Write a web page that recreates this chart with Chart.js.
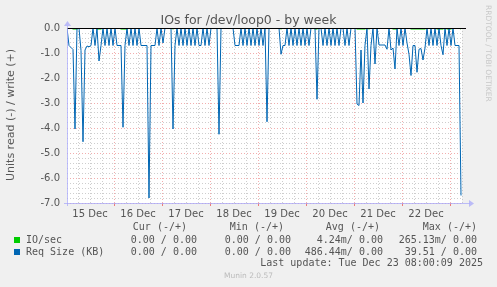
<!DOCTYPE html>
<html><head><meta charset="utf-8">
<script src="https://cdn.jsdelivr.net/npm/chart.js@4.4.1/dist/chart.umd.min.js"></script>
<style>
html,body{margin:0;padding:0;background:#f0f0f0;}
#wrap{position:relative;width:497px;height:287px;overflow:hidden;background:#f0f0f0;}
canvas{position:absolute;left:0;top:0;}
.m{position:absolute;white-space:pre;font-family:"DejaVu Sans Mono",monospace;font-size:10px;line-height:12px;color:#555;}
.s{position:absolute;white-space:pre;font-family:"DejaVu Sans",sans-serif;color:#555;}
.sq{position:absolute;width:6px;height:6px;}
</style></head><body>
<div id="wrap">
<canvas id="c" width="497" height="287"></canvas>
<div class="s" style="left:0;width:497px;text-align:center;top:12px;font-size:12.5px;line-height:16px;">IOs for /dev/loop0 - by week</div>
<div class="s" style="left:5px;top:47px;width:12px;height:135px;font-size:11px;line-height:12px;writing-mode:vertical-rl;transform:rotate(180deg);text-align:center;">Units read (-) / write (+)</div>
<div class="s" style="left:483px;top:5px;width:10px;font-size:7.5px;line-height:10px;writing-mode:vertical-rl;color:#c8c8c8;">RRDTOOL / TOBI OETIKER</div>
<div id="legend"></div>
<div class="m" style="right:14px;top:257px;">Last update: Tue Dec 23 08:00:09 2025</div>
<div class="s" style="left:0;width:497px;text-align:center;top:271px;font-size:7.5px;line-height:10px;color:#bbb;">Munin 2.0.57</div>
</div>
<script>
// hours after 15 Dec 00:00 of the first sample, one sample per hour
const firstHour = 0.5;
const lastHour = 198;
// Req Size (KB), read side (negative)
const reqSize = [
 0,-0.7,-0.78,-0.86,-4.04,0,0,-0.9,-4.55,-0.88,
 -0.72,-0.75,-0.7,0,-0.7,0,-1.32,-0.7,0,-0.7,
 0,-0.7,0,-0.7,0,-0.7,-0.7,-0.7,-3.97,-0.7,
 0,-0.7,0,-0.7,0,-0.7,0,-0.7,-0.7,-0.7,
 -0.7,-6.8,-0.7,-0.7,-0.7,0,-0.7,0,-0.6,0,
 0,0,0,-4.04,-0.7,0,-0.7,0,-0.7,0,
 -0.7,0,-0.7,0,-0.7,0,-0.7,-0.7,0,-0.7,
 0,-0.7,0,0,0,0,-4.25,0,0,0,
 0,0,0,0,-0.7,-0.7,-0.7,0,-0.7,0,
 -0.7,0,-0.7,0,-0.7,0,-0.7,0,-0.7,0,
 -3.75,0,0,0,0,0,0,-1.05,-0.7,-0.7,
 0,-0.7,0,-0.7,0,-0.7,0,-0.7,0,-0.7,
 0,-0.7,0,0,0,-2.85,0,0,-0.7,0,
 -0.7,0,-0.7,0,-0.7,0,-0.7,0,0,-0.7,
 0,-0.7,0,0,0,-3.04,-3.1,-0.88,-3.0,-0.69,
 0,-2.44,-0.7,0,-1.44,0,-0.68,-0.68,-0.68,-0.68,
 -0.85,0,-0.88,-0.8,-1.64,0,-0.7,0,-0.7,0,
 -0.6,-1.05,-1.9,-0.7,-0.7,-1.77,-0.85,-0.82,-1.28,-0.8,
 0,-0.7,0,-0.7,0,-0.7,0,-0.7,-1.07,0,
 -0.7,0,-0.7,0,-0.7,-0.7,-0.7,-6.7
];
// IO/sec, read side (negative)
const ioSec = [
 0,0,0,-0.04,-0.04,-0.04,0,0,0,0,
 0,0,0,0,0,-0.04,-0.04,-0.04,0,0,
 0,0,0,0,0,0,0,-0.04,-0.04,-0.04,
 -0.04,0,0,0,0,0,0,0,0,0,
 0,0,0,0,0,0,0,0,0,0,
 0,0,0,-0.04,0,0,0,0,0,0,
 0,0,0,0,0,0,0,0,0,0,
 0,0,0,0,0,0,0,0,0,0,
 0,0,0,0,0,0,0,0,0,0,
 0,0,0,0,0,0,0,0,0,0,
 0,0,0,0,0,0,0,-0.04,0,0,
 0,0,0,0,0,0,0,0,0,0,
 0,0,0,0,-0.04,-0.04,0,0,0,0,
 0,0,0,0,0,0,0,0,0,0,
 0,0,0,0,0,-0.04,-0.04,-0.04,-0.04,-0.04,
 0,-0.04,0,0,0,0,0,0,0,0,
 0,0,0,-0.04,-0.04,-0.04,0,0,0,0,
 0,0,-0.04,-0.04,-0.04,-0.04,-0.04,-0.04,-0.04,-0.04,
 0,0,0,0,0,-0.04,-0.04,-0.04,-0.04,0,
 -0.04,-0.04,-0.04,0,0,0,0,-0.04
];
const dayLabels = ['15 Dec','16 Dec','17 Dec','18 Dec','19 Dec','20 Dec','21 Dec','22 Dec'];
const dayLabelHours = [12,36,60,84,108,132,156,180];
const yMin = -7, yMax = 0;
const legendHeads = ['Cur (-/+)','Min (-/+)','Avg (-/+)','Max (-/+)'];
const seriesNames = ['IO/sec','Req Size (KB)'];
const seriesColors = ['#00cc00','#0066b3'];
const seriesStats = [
  ['0.00 / 0.00','0.00 / 0.00','4.24m/ 0.00','265.13m/ 0.00'],
  ['0.00 / 0.00','0.00 / 0.00','486.44m/ 0.00','39.51 / 0.00']
];

// legend text
(function(){
  const L = document.getElementById('legend');
  const colEnds = [197, 291, 383, 477];
  const headEnds = [187, 284, 380, 477];
  let h = '';
  legendHeads.forEach((t,i)=>{ h += `<div class="m" style="right:${497-headEnds[i]}px;top:221px;">${t}</div>`; });
  const rowTops = [234, 246];
  seriesNames.forEach((n,r)=>{
    h += `<div class="sq" style="left:14px;top:${rowTops[r]+3}px;background:${seriesColors[r]};"></div>`;
    h += `<div class="m" style="left:26px;top:${rowTops[r]}px;">${n}</div>`;
    seriesStats[r].forEach((t,i)=>{ h += `<div class="m" style="right:${497-colEnds[i]}px;top:${rowTops[r]}px;">${t}</div>`; });
  });
  L.innerHTML = h;
})();

const toPts = arr => arr.map((v,i)=>({x: firstHour + i, y: v}));

const axisColor = 'rgba(170,170,250,0.75)';
const plotDecor = {
  id: 'plotDecor',
  beforeDraw(chart){
    const {ctx, chartArea:a} = chart;
    ctx.save();
    ctx.fillStyle = '#ffffff';
    ctx.fillRect(a.left, a.top, a.right - a.left, a.bottom - a.top);
    ctx.restore();
  },
  afterDatasetsDraw(chart){
    const {ctx, chartArea:a, scales} = chart;
    ctx.save();
    // zero line
    const y0 = Math.round(scales.y.getPixelForValue(0)) + 0.5;
    ctx.strokeStyle = '#000'; ctx.lineWidth = 1;
    ctx.beginPath(); ctx.moveTo(a.left, y0); ctx.lineTo(a.right + 4, y0); ctx.stroke();
    // axes
    ctx.strokeStyle = axisColor;
    const xb = Math.round(a.bottom) + 0.5, xl = Math.round(a.left) + 0.5;
    ctx.beginPath(); ctx.moveTo(a.left - 3, xb); ctx.lineTo(a.right + 8, xb); ctx.stroke();
    ctx.beginPath(); ctx.moveTo(xl, a.bottom + 3); ctx.lineTo(xl, a.top - 2); ctx.stroke();
    ctx.fillStyle = axisColor;
    ctx.beginPath(); ctx.moveTo(a.right + 12, xb); ctx.lineTo(a.right + 7, xb - 3.5); ctx.lineTo(a.right + 7, xb + 3.5); ctx.closePath(); ctx.fill();
    ctx.beginPath(); ctx.moveTo(xl, a.top - 7); ctx.lineTo(xl - 3.5, a.top - 2); ctx.lineTo(xl + 3.5, a.top - 2); ctx.closePath(); ctx.fill();
    ctx.restore();
  }
};

const isInt = v => Math.abs(v - Math.round(v)) < 1e-6;
const majorCol = 'rgba(235,130,130,0.65)';
const minorCol = 'rgba(185,185,185,0.7)';

new Chart(document.getElementById('c'), {
  type: 'line',
  data: {
    datasets: [
      {label: seriesNames[1], data: toPts(reqSize), borderColor: seriesColors[1], borderWidth: 1, pointRadius: 0, tension: 0, fill: false, order: 0},
      {label: seriesNames[0], data: toPts(ioSec), borderColor: seriesColors[0], borderWidth: 1, pointRadius: 0, tension: 0, fill: false, order: 1}
    ]
  },
  options: {
    responsive: false, animation: false, devicePixelRatio: 1,
    layout: {padding: {left: 0, right: 35, top: 28, bottom: 64}},
    plugins: {legend: {display: false}, tooltip: {enabled: false}},
    scales: {
      x: {
        type: 'linear', min: firstHour, max: lastHour,
        afterBuildTicks: ax => { const t = []; for (let h = 6; h <= lastHour; h += 6) t.push({value: h}); ax.ticks = t; },
        afterFit: ax => { ax.height = 20; },
        ticks: {
          autoSkip: false, maxRotation: 0, padding: 2, color: '#555',
          font: {family: 'DejaVu Sans', size: 10},
          callback: v => { const i = dayLabelHours.indexOf(v); return i >= 0 ? dayLabels[i] : ''; }
        },
        grid: {
          color: c => (c.tick && c.tick.value % 24 === 0) ? majorCol : minorCol,
          tickColor: c => (c.tick && c.tick.value % 24 === 0) ? 'rgba(235,110,110,0.9)' : 'rgba(0,0,0,0)',
          tickLength: 3, drawTicks: true, lineWidth: 1
        },
        border: {display: false, dash: [1, 2]}
      },
      y: {
        type: 'linear', min: yMin, max: yMax,
        afterBuildTicks: ax => { const t = []; for (let k = 0; k <= 35; k++) t.push({value: Math.round((yMin + k * 0.2) * 10) / 10}); ax.ticks = t; },
        afterFit: ax => { ax.width = 67; },
        ticks: {
          autoSkip: false, padding: 7, color: '#555',
          font: {family: 'DejaVu Sans', size: 10},
          callback: v => isInt(v) ? (Math.abs(v) < 1e-9 ? '0.0' : v.toFixed(1)) : ''
        },
        grid: {
          color: c => (c.tick && isInt(c.tick.value)) ? majorCol : minorCol,
          drawTicks: false, lineWidth: 1
        },
        border: {display: false, dash: [1, 2]}
      }
    }
  },
  plugins: [plotDecor]
});
</script>
</body></html>
